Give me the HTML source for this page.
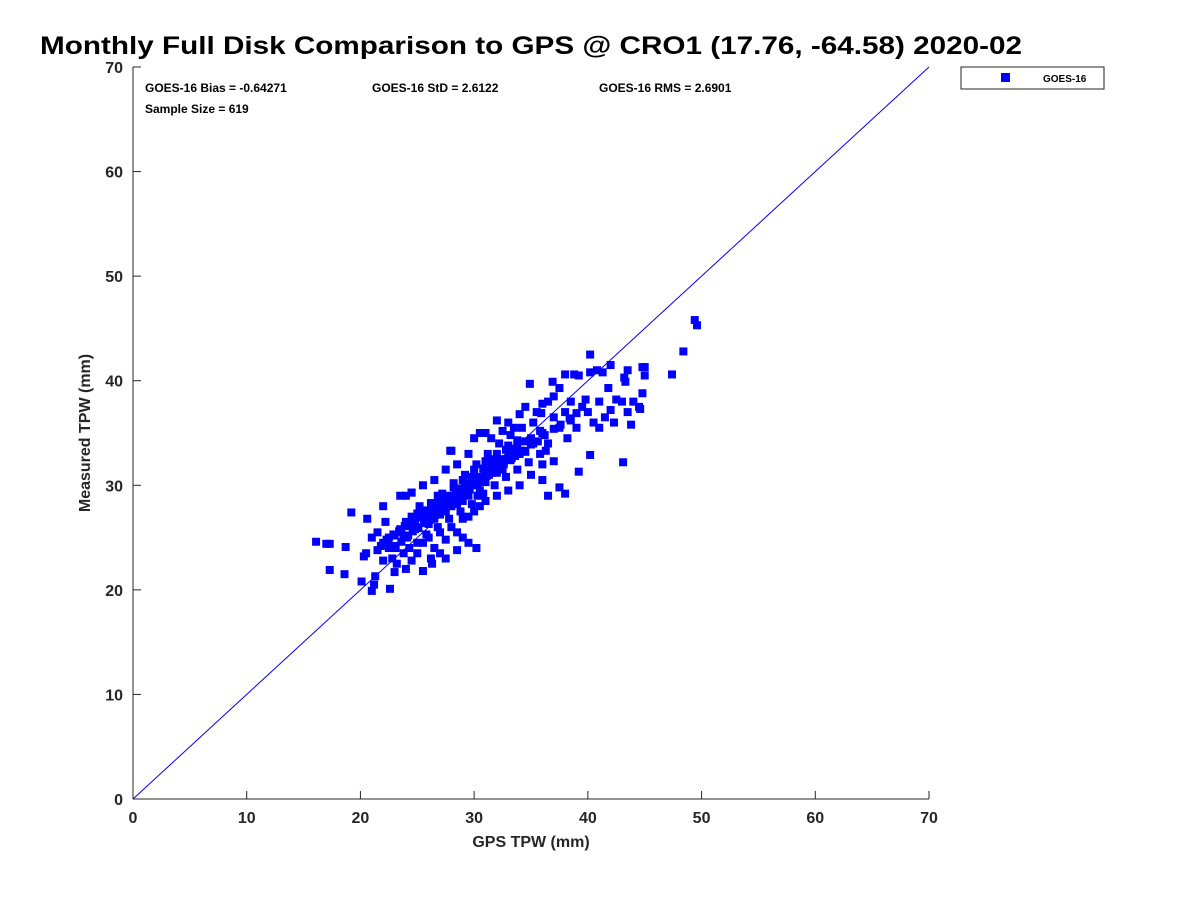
<!DOCTYPE html>
<html><head><meta charset="utf-8"><style>
body{margin:0;background:#fff;font-family:"Liberation Sans",sans-serif}
svg text{font-family:"Liberation Sans",sans-serif;font-weight:bold}
</style></head><body>
<svg id="chart" width="1200" height="900" xmlns="http://www.w3.org/2000/svg">
<rect width="1200" height="900" fill="#fff"/>
<text x="40" y="54" font-size="25" fill="#000" textLength="982" lengthAdjust="spacingAndGlyphs">Monthly Full Disk Comparison to GPS @ CRO1 (17.76, -64.58) 2020-02</text>
<g id="axes"></g>
<line id="oneToOne" stroke="#0000ff" stroke-width="1"/>
<g id="points"></g>
<text x="145" y="92" font-size="12" fill="#000">GOES-16 Bias = -0.64271</text>
<text x="372" y="92" font-size="12" fill="#000">GOES-16 StD = 2.6122</text>
<text x="599" y="92" font-size="12" fill="#000">GOES-16 RMS = 2.6901</text>
<text x="145" y="113" font-size="12" fill="#000">Sample Size = 619</text>
<text x="531" y="847" font-size="16" fill="#262626" text-anchor="middle">GPS TPW (mm)</text>
<text transform="translate(90,433) rotate(-90)" font-size="16" fill="#262626" text-anchor="middle">Measured TPW (mm)</text>
<g>
<rect x="961" y="67" width="143" height="22" fill="#fff" stroke="#262626" stroke-width="1"/>
<rect x="1001" y="73" width="9" height="9" fill="#0000ff"/>
<text x="1043" y="82" font-size="10" fill="#000">GOES-16</text>
</g>
</svg>
<script>
const xTicks=[0,10,20,30,40,50,60,70];
const yTicks=[0,10,20,30,40,50,60,70];
const gps=[16.1,17.0,17.3,17.3,18.6,18.7,19.2,20.1,20.3,20.6,21.0,21.2,21.3,22.6,49.4,49.6,48.4,47.4,45.0,45.0,44.6,43.2,43.1,40.2,40.2,39.2,36.9,35.9,34.9,
24.0,24.5,25.0,25.5,26.0,26.5,27.0,27.5,28.0,28.5,29.0,29.5,30.0,30.5,31.0,31.5,32.0,32.5,33.0,33.5,34.0,34.5,35.0,
24.2,24.8,25.2,25.8,26.2,26.8,27.2,27.8,28.2,28.8,29.2,29.8,30.2,30.8,31.2,31.8,32.2,32.8,33.2,33.8,34.2,34.8,35.2,35.8,
22.5,23.0,23.5,22.0,21.5,22.8,23.2,23.8,24.3,25.0,25.5,26.0,26.5,27.0,27.5,28.0,28.5,29.0,29.5,30.0,30.5,31.0,32.0,33.0,34.0,35.0,36.0,36.5,37.5,38.0,
22.0,23.5,24.5,25.5,26.5,27.5,28.0,28.5,29.5,30.0,30.5,31.0,31.5,32.0,32.5,33.0,33.5,34.0,34.5,35.5,36.0,36.5,
36.0,36.5,37.0,37.5,38.0,38.5,39.0,38.2,39.5,40.0,40.5,41.0,41.5,42.0,42.5,43.0,43.5,44.0,44.5,44.8,43.8,42.3,41.0,40.2,40.8,41.3,42.0,43.5,44.8,38.0,38.8,39.2,37.5,37.0,38.5,39.8,43.3,41.8,
21.0,21.5,20.5,22.0,22.5,23.0,24.0,24.5,25.0,25.5,26.2,27.0,27.5,28.5,29.5,30.2,29.0,26.3,23.8,22.2,24.0,24.5,27.9,29.2,27.5,
27.0,27.5,28.0,28.5,29.0,29.5,30.0,30.5,31.0,31.5,32.0,32.5,29.0,30.0,31.0,32.0,26.0,25.0,26.8,28.2,30.3,31.3,33.0,33.8,34.5,35.2,35.8,36.3,37.0,36.0,
26.0,26.5,27.3,28.3,29.3,30.3,31.3,32.3,33.3,24.8,25.8,27.8,28.8,29.8,30.8,31.8,32.8,33.8,
22.3,22.9,23.4,23.9,24.4,24.9,25.4,25.9,26.4,26.9,27.4,27.9,28.4,28.9,29.4,29.9,30.4,30.9,31.4,31.9,32.4,32.9,33.4,
23.1,23.6,24.1,24.6,25.1,25.6,26.1,26.6,27.1,27.6,28.1,28.6,29.1,29.6,30.1,30.6,31.1,31.6,32.1,32.6,33.1,33.6,34.1,
21.8,22.4,23.0,23.6,24.2,24.8,25.4,26.0,26.6,27.2,27.8,28.4,29.0,29.6,30.2,30.8,31.4,32.0,32.6,33.2,33.8,34.4,35.0,35.6,36.2,37.0,37.6,38.4,39.0];
const tpw=[24.6,24.4,24.4,21.9,21.5,24.1,27.4,20.8,23.2,26.8,19.9,20.5,21.3,20.1,45.8,45.3,42.8,40.6,41.3,40.5,37.3,40.3,32.2,42.5,32.9,31.3,39.9,36.9,39.7,
26.5,27.0,26.0,27.5,26.8,27.8,27.2,28.5,28.0,29.0,28.5,29.8,30.0,30.8,31.0,31.8,32.0,32.5,32.8,33.5,33.0,34.2,34.5,
25.2,25.8,28.0,25.3,28.3,26.0,29.2,26.8,30.2,27.5,31.0,28.2,32.0,29.2,33.0,30.0,34.0,30.8,34.8,31.5,35.5,32.2,36.0,33.0,
25.0,24.2,25.8,24.5,23.8,23.0,22.5,23.5,24.0,23.5,24.5,25.0,24.0,25.5,24.8,26.0,25.5,26.8,27.0,27.5,28.0,28.5,29.0,29.5,30.0,31.0,30.5,29.0,29.8,29.2,
28.0,29.0,29.3,30.0,30.5,31.5,33.3,32.0,33.0,34.5,35.0,35.0,34.5,36.2,35.2,36.0,35.5,36.8,37.5,37.0,37.8,38.0,
35.0,34.0,36.5,35.5,37.0,36.2,35.5,34.5,37.5,37.0,36.0,35.5,36.5,37.2,38.2,38.0,37.0,38.0,37.5,38.8,35.8,36.0,38.0,40.8,41.0,40.8,41.5,41.0,41.3,40.6,40.6,40.5,39.3,38.5,38.0,38.2,39.9,39.3,
25.0,25.5,23.5,22.8,24.0,21.7,22.0,22.8,24.5,21.8,23.0,23.5,23.0,23.8,24.5,24.0,25.0,22.5,25.0,26.5,29.0,29.3,33.3,30.2,27.8,
28.0,27.5,28.8,28.2,29.5,29.0,30.5,29.5,30.3,31.2,31.2,31.5,30.5,31.5,32.3,33.0,27.5,27.3,29.0,29.8,29.0,32.5,33.8,34.3,33.2,34.0,35.2,33.3,32.3,32.0,
26.3,26.8,27.6,28.6,29.4,30.2,31.0,31.8,32.6,26.6,27.0,28.2,29.2,30.8,31.6,32.4,33.4,34.0,
24.8,25.3,25.6,26.1,26.4,26.9,27.1,27.6,27.9,28.3,28.6,29.0,29.3,29.7,30.0,30.4,30.7,31.1,31.4,31.8,32.1,32.5,32.8,
24.0,24.6,25.0,25.6,25.9,26.4,26.8,27.2,27.7,28.0,28.5,28.8,29.3,29.6,30.1,30.4,30.9,31.2,31.7,32.0,32.5,32.8,33.3,
24.2,24.6,25.2,25.5,26.1,26.4,27.0,27.3,27.9,28.2,28.8,29.0,29.6,29.9,30.4,30.8,31.3,31.6,32.2,32.4,33.0,33.3,33.9,34.2,34.8,35.4,35.8,36.4,36.9];
const X0=133,X1=929,Y0=799,Y1=67,XMAX=70,YMAX=70;
const sx=v=>X0+(v/XMAX)*(X1-X0);
const sy=v=>Y0-(v/YMAX)*(Y0-Y1);
const NS="http://www.w3.org/2000/svg";
const axes=document.getElementById('axes');
function mk(tag,attrs,parent){const e=document.createElementNS(NS,tag);for(const k in attrs)e.setAttribute(k,attrs[k]);parent.appendChild(e);return e;}
const xl=mk('line',{x1:X0,y1:Y0,x2:X1,y2:Y0,stroke:'#262626'},axes);


const yl=mk('line',{x1:X0,y1:Y0,x2:X0,y2:Y1,stroke:'#262626'},axes);


xTicks.forEach(t=>{
  const l=mk('line',{x1:sx(t),y1:Y0,x2:sx(t),y2:Y0-8,stroke:'#262626'},axes);
  
  
  const tx=mk('text',{x:sx(t),y:Y0+24,'font-size':16,fill:'#262626','text-anchor':'middle'},axes);
  tx.textContent=t;
  
  
});
yTicks.forEach(t=>{
  const l=mk('line',{x1:X0,y1:sy(t),x2:X0+8,y2:sy(t),stroke:'#262626'},axes);
  
  
  const tx=mk('text',{x:X0-10,y:sy(t)+6,'font-size':16,fill:'#262626','text-anchor':'end'},axes);
  tx.textContent=t;
  
  
});
const ol=document.getElementById('oneToOne');
ol.setAttribute('x1',sx(0));ol.setAttribute('y1',sy(0));ol.setAttribute('x2',sx(70));ol.setAttribute('y2',sy(70));
const pg=document.getElementById('points');
const n=Math.min(gps.length,tpw.length);
for(let i=0;i<n;i++){
  const r=mk('rect',{x:sx(gps[i])-4,y:sy(tpw[i])-4,width:8,height:8,fill:'#0000ff'},pg);
  
  
}
</script>
</body></html>
